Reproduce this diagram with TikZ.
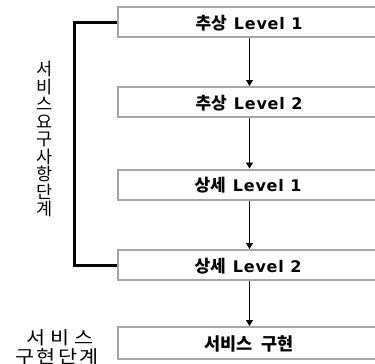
\documentclass[tikz,border=0pt]{standalone}
\usepackage{fontspec}
\usetikzlibrary{arrows.meta}
\newfontfamily\kr{Noto Sans CJK KR}
\newfontfamily\krsp{Noto Sans CJK KR}[LetterSpace=12]
\newfontfamily\krspw{Noto Sans CJK KR}[LetterSpace=26]
\newfontfamily\latb{DejaVu Sans}[LetterSpace=5]
\newcommand\tightlines{\lineskiplimit=-100pt\relax}
\tikzset{
  lvbox/.style={draw=black!35, line width=2pt, fill=white, minimum width=264pt, minimum height=30pt, inner sep=0pt},
  lbl/.style={font=\fontsize{16}{17}\selectfont, inner sep=0pt},
  flow/.style={draw=black, line width=0.8pt, -{Triangle[length=6pt,width=7pt]}},
  bracket/.style={draw=black, line width=3pt},
  sidetxt/.style={font=\kr\fontsize{17.5}{17.5}\selectfont\tightlines, align=center, inner sep=0pt}
}
\newcommand\lv[2]{{\kr\bfseries\fontsize{17}{17}\selectfont #1}\hspace{7pt}{\latb\bfseries #2}}
\begin{document}
\begin{tikzpicture}[x=1pt,y=-1pt]
\useasboundingbox (0,0) rectangle (375,364);
\clip (0,0) rectangle (375,364);
\node[lvbox] (b1) at (249.5,22) {};
\node[lvbox] (b2) at (249.5,102) {};
\node[lvbox] (b3) at (249.5,184.5) {};
\node[lvbox] (b4) at (249.5,265) {};
\node[lvbox, minimum height=32pt] (b5) at (249.5,343) {};
\node[lbl] (t1) at (249,23) {\lv{추상}{Level 1}};
\node[lbl] (t2) at (249,103) {\lv{추상}{Level 2}};
\node[lbl] (t3) at (248,185.5) {\lv{상세}{Level 1}};
\node[lbl] (t4) at (248,266) {\lv{상세}{Level 2}};
\node[lbl] (t5) at (249,344) {{\kr\bfseries\fontsize{17.5}{17.5}\selectfont 서비스\hspace{9pt}구현}};
\draw[flow] (b1.south) -- (b2.north);
\draw[flow] (b2.south) -- (b3.north);
\draw[flow] (b3.south) -- (b4.north);
\draw[flow] (b4.south) -- (b5.north);
\coordinate (v1) at (74.5,22);
\coordinate (v2) at (74.5,265);
\draw[bracket] (b1.west) -- (v1) -- (v2) -- (b4.west);
\node[sidetxt] (s1) at (45,139) {서\\비\\스\\요\\구\\사\\항\\단\\계};
\node[sidetxt, xscale=1.15, transform shape] (s2) at (60,338) {\krspw\fontsize{18}{18}\selectfont 서비스};
\node[sidetxt, xscale=1.15, transform shape] (s3) at (57,357) {\krsp\fontsize{18}{18}\selectfont 구현단계};
\end{tikzpicture}
\end{document}
